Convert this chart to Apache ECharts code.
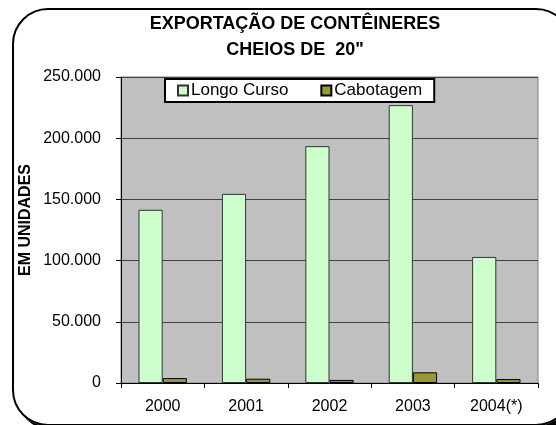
<!DOCTYPE html>
<html>
<head>
<meta charset="utf-8">
<script src="https://cdn.jsdelivr.net/npm/echarts@6/dist/echarts.min.js"></script>
<style>
  html, body { margin: 0; padding: 0; background: #fff; overflow: hidden; }
  .frame {
    position: absolute; left: 12px; top: 8px; width: 556px; height: 414px;
    border: 2px solid #000; border-radius: 36px; box-shadow: 4px 4px 0 #000;
  }
  #chart { position: absolute; left: 0; top: 0; width: 556px; height: 425px; }
</style>
</head>
<body>
<div class="frame"></div>
<div id="chart"></div>
<script>
const categories = ['2000', '2001', '2002', '2003', '2004(*)']
const longoCurso = [141500, 154500, 193500, 227000, 103000]
const cabotagem = [4000, 3500, 2500, 8700, 3200]
const yTicks = { min: 0, max: 250000, interval: 50000 }

const fmt = (v) => String(v).replace(/\B(?=(\d{3})+(?!\d))/g, '.')

const font = '"Liberation Sans", Arial, sans-serif'

const chart = echarts.init(document.getElementById('chart'))
chart.setOption({
  animation: false,
  textStyle: { fontFamily: font, color: '#000' },
  title: {
    text: 'EXPORTAÇÃO DE CONTÊINERES\nCHEIOS DE  20"',
    left: 290,
    top: 6,
    textAlign: 'center',
    textStyle: { fontSize: 18, fontWeight: 'bold', lineHeight: 26, fontFamily: font, color: '#000' },
  },
  legend: {
    left: 165,
    top: 79,
    padding: [3, 12, 3, 12],
    backgroundColor: '#fff',
    borderColor: '#000',
    borderWidth: 2,
    itemWidth: 10,
    itemHeight: 10,
    itemGap: 32,
    icon: 'rect',
    textStyle: { fontSize: 17, fontFamily: font, color: '#000', padding: [0, 0, 0, -2] },
    data: ['Longo Curso', 'Cabotagem'],
  },
  grid: {
    left: 121, right: 18, top: 77, bottom: 42,
    show: true,
    backgroundColor: '#c0c0c0',
    borderColor: '#808080',
    borderWidth: 1,
  },
  graphic: [{
    type: 'text',
    rotation: Math.PI / 2,
    x: 26, y: 220,
    style: { text: 'EM UNIDADES', font: 'bold 16px ' + font, fill: '#000', align: 'center', verticalAlign: 'middle' },
  }],
  xAxis: {
    type: 'category',
    data: categories,
    axisLine: { lineStyle: { color: '#000', width: 1 } },
    axisTick: { show: true, length: 5, lineStyle: { color: '#000' } },
    axisLabel: { fontSize: 16, margin: 16, color: '#000', fontFamily: font },
  },
  yAxis: {
    type: 'value',
    min: yTicks.min,
    max: yTicks.max,
    interval: yTicks.interval,
    axisLine: { show: true, lineStyle: { color: '#000', width: 1 } },
    axisTick: { show: true, length: 5, lineStyle: { color: '#000' } },
    axisLabel: { fontSize: 16, margin: 20, color: '#000', fontFamily: font, formatter: fmt },
    splitLine: { lineStyle: { color: '#404040', width: 1 } },
  },
  series: [
    {
      name: 'Longo Curso',
      type: 'bar',
      data: longoCurso,
      barGap: '0%',
      barCategoryGap: '42%',
      itemStyle: { color: '#ccffcc', borderColor: '#333', borderWidth: 1 },
    },
    {
      name: 'Cabotagem',
      type: 'bar',
      data: cabotagem,
      itemStyle: { color: '#999933', borderColor: '#000', borderWidth: 1 },
    },
  ],
})
</script>
</body>
</html>
